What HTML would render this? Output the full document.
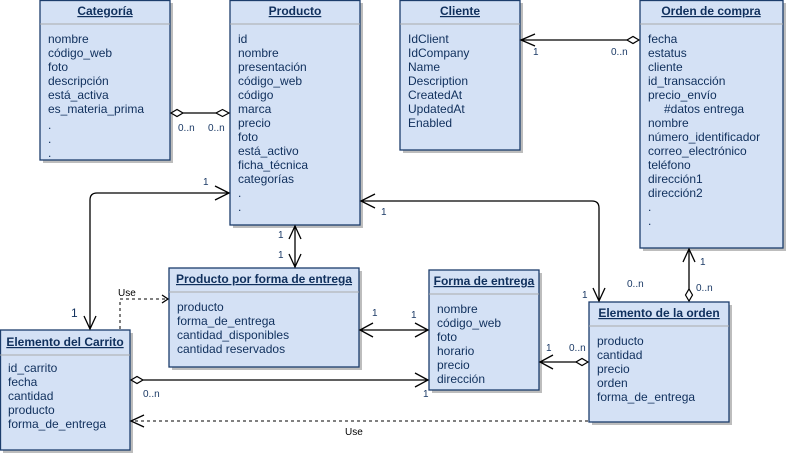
<!DOCTYPE html>
<html><head><meta charset="utf-8"><style>
html,body{margin:0;padding:0;background:#fff;}
svg{display:block;font-family:"Liberation Sans",sans-serif;}
.t{fill:#0f2f5c;font-size:12px;}
.h{fill:#0f2f5c;font-size:12px;font-weight:bold;text-decoration:underline;}
.l{fill:#1b3a66;font-size:10px;}
.b{fill:#d4e1f5;stroke:#1c3d6c;stroke-width:1.3;}
.s{fill:#bdbdbd;}
.c{stroke:#000;stroke-width:1.3;fill:none;}
.d{fill:#fff;stroke:#000;stroke-width:1.2;}
</style></head><body>
<svg width="786" height="454" viewBox="0 0 786 454">
<!-- shadows -->
<rect class="s" x="43" y="3" width="130" height="160"/>
<rect class="s" x="233" y="3" width="130" height="225"/>
<rect class="s" x="403" y="3" width="120" height="150"/>
<rect class="s" x="643" y="3" width="143" height="248"/>
<rect class="s" x="172" y="271" width="190" height="99"/>
<rect class="s" x="432" y="273" width="110" height="120"/>
<rect class="s" x="592" y="305" width="140" height="120"/>
<rect class="s" x="3" y="333" width="130" height="120"/>
<!-- boxes -->
<g>
<rect class="b" x="40" y="0.5" width="130" height="159.5"/><line x1="40" y1="24" x2="170" y2="24" stroke="#aaa"/>
<text class="h" x="105" y="15" text-anchor="middle">Categoría</text>
<text class="t" x="48" y="43">nombre</text><text class="t" x="48" y="57">código_web</text><text class="t" x="48" y="71">foto</text><text class="t" x="48" y="85">descripción</text><text class="t" x="48" y="99">está_activa</text><text class="t" x="48" y="113">es_materia_prima</text><text class="t" x="48" y="129">.</text><text class="t" x="48" y="143">.</text><text class="t" x="48" y="157">.</text>
</g>
<g>
<rect class="b" x="230" y="0.5" width="130" height="224.5"/><line x1="230" y1="24" x2="360" y2="24" stroke="#aaa"/>
<text class="h" x="295" y="15" text-anchor="middle">Producto</text>
<text class="t" x="238" y="43">id</text><text class="t" x="238" y="57">nombre</text><text class="t" x="238" y="71">presentación</text><text class="t" x="238" y="85">código_web</text><text class="t" x="238" y="99">código</text><text class="t" x="238" y="113">marca</text><text class="t" x="238" y="127">precio</text><text class="t" x="238" y="141">foto</text><text class="t" x="238" y="155">está_activo</text><text class="t" x="238" y="169">ficha_técnica</text><text class="t" x="238" y="183">categorías</text><text class="t" x="238" y="197">.</text><text class="t" x="238" y="211">.</text>
</g>
<g>
<rect class="b" x="400" y="0.5" width="120" height="149.5"/><line x1="400" y1="24" x2="520" y2="24" stroke="#aaa"/>
<text class="h" x="460" y="15" text-anchor="middle">Cliente</text>
<text class="t" x="408" y="43">IdClient</text><text class="t" x="408" y="57">IdCompany</text><text class="t" x="408" y="71">Name</text><text class="t" x="408" y="85">Description</text><text class="t" x="408" y="99">CreatedAt</text><text class="t" x="408" y="113">UpdatedAt</text><text class="t" x="408" y="127">Enabled</text>
</g>
<g>
<rect class="b" x="640" y="0.5" width="143" height="247.5"/><line x1="640" y1="24" x2="783" y2="24" stroke="#aaa"/>
<text class="h" x="711" y="15" text-anchor="middle">Orden de compra</text>
<text class="t" x="648" y="43">fecha</text><text class="t" x="648" y="57">estatus</text><text class="t" x="648" y="71">cliente</text><text class="t" x="648" y="85">id_transacción</text><text class="t" x="648" y="99">precio_envío</text><text class="t" x="664" y="113">#datos entrega</text><text class="t" x="648" y="127">nombre</text><text class="t" x="648" y="141">número_identificador</text><text class="t" x="648" y="155">correo_electrónico</text><text class="t" x="648" y="169">teléfono</text><text class="t" x="648" y="183">dirección1</text><text class="t" x="648" y="197">dirección2</text><text class="t" x="648" y="211">.</text><text class="t" x="648" y="225">.</text>
</g>
<g>
<rect class="b" x="169" y="268" width="190" height="99"/><line x1="169" y1="292" x2="359" y2="292" stroke="#aaa"/>
<text class="h" x="264" y="283" text-anchor="middle">Producto por forma de entrega</text>
<text class="t" x="177" y="311">producto</text><text class="t" x="177" y="325">forma_de_entrega</text><text class="t" x="177" y="339">cantidad_disponibles</text><text class="t" x="177" y="353">cantidad reservados</text>
</g>
<g>
<rect class="b" x="429" y="270" width="110" height="120"/><line x1="429" y1="294" x2="539" y2="294" stroke="#aaa"/>
<text class="h" x="484" y="285" text-anchor="middle">Forma de entrega</text>
<text class="t" x="437" y="313">nombre</text><text class="t" x="437" y="327">código_web</text><text class="t" x="437" y="341">foto</text><text class="t" x="437" y="355">horario</text><text class="t" x="437" y="369">precio</text><text class="t" x="437" y="383">dirección</text>
</g>
<g>
<rect class="b" x="589" y="302" width="140" height="120"/><line x1="589" y1="326" x2="729" y2="326" stroke="#aaa"/>
<text class="h" x="659" y="317" text-anchor="middle">Elemento de la orden</text>
<text class="t" x="597" y="345">producto</text><text class="t" x="597" y="359">cantidad</text><text class="t" x="597" y="373">precio</text><text class="t" x="597" y="387">orden</text><text class="t" x="597" y="401">forma_de_entrega</text>
</g>
<g>
<rect class="b" x="0.5" y="330" width="129.5" height="120"/><line x1="0" y1="355" x2="130" y2="355" stroke="#aaa"/>
<text class="h" x="65" y="346" text-anchor="middle">Elemento del Carrito</text>
<text class="t" x="8" y="372">id_carrito</text><text class="t" x="8" y="386">fecha</text><text class="t" x="8" y="400">cantidad</text><text class="t" x="8" y="414">producto</text><text class="t" x="8" y="428">forma_de_entrega</text>
</g>
<!-- connectors -->
<line class="c" x1="183" y1="113" x2="216" y2="113"/>
<path class="d" d="M171,113 L177,109.5 L183,113 L177,116.5Z"/>
<path class="d" d="M229,113 L222.5,109.5 L216,113 L222.5,116.5Z"/>
<text class="l" x="178" y="131">0..n</text><text class="l" x="208" y="131">0..n</text>

<line class="c" x1="521" y1="40" x2="627" y2="40"/>
<path class="c" d="M535,34 L521,40 L535,46"/>
<path class="d" d="M639,40 L633,36.5 L627,40 L633,43.5Z"/>
<text class="l" x="533" y="55">1</text><text class="l" x="611" y="55">0..n</text>

<path class="c" d="M90,329 L90,200 Q90,193 97,193 L229,193"/>
<path class="c" d="M215,186 L229,193 L215,200"/>
<path class="c" d="M84,316 L90,329 L96,316"/>
<text class="l" x="203" y="185">1</text><text class="t" x="71" y="317">1</text>

<path class="c" d="M361,201 L592,201 Q599,201 599,208 L599,301"/>
<path class="c" d="M375,194 L361,201 L375,208"/>
<path class="c" d="M593,288 L599,301 L605,288"/>
<text class="l" x="381" y="215">1</text><text class="l" x="582" y="298">1</text>

<line class="c" x1="295" y1="226" x2="295" y2="267"/>
<path class="c" d="M289,239 L295,226 L301,239"/>
<path class="c" d="M289,254 L295,267 L301,254"/>
<text class="l" x="278" y="238">1</text><text class="l" x="278" y="258">1</text>

<line class="c" x1="360" y1="330" x2="428" y2="330"/>
<path class="c" d="M373,323 L360,330 L373,337"/>
<path class="c" d="M415,323 L428,330 L415,337"/>
<text class="l" x="372" y="316">1</text><text class="l" x="411" y="318">1</text>

<line class="c" x1="143" y1="380" x2="428" y2="380"/>
<path class="d" d="M131,380 L137,376.5 L143,380 L137,383.5Z"/>
<path class="c" d="M415,373 L428,380 L415,387"/>
<text class="l" x="143" y="397">0..n</text><text class="l" x="423" y="397">1</text>

<line class="c" x1="540" y1="362" x2="576" y2="362"/>
<path class="c" d="M553,355 L540,362 L553,369"/>
<path class="d" d="M588,362 L582,358.5 L576,362 L582,365.5Z"/>
<text class="l" x="546" y="351">1</text><text class="l" x="569" y="351">0..n</text>

<line class="c" x1="689" y1="249" x2="689" y2="289"/>
<path class="c" d="M683,262 L689,249 L695,262"/>
<path class="d" d="M689,301 L685.5,295 L689,289 L692.5,295Z"/>
<text class="l" x="700" y="265">1</text><text class="l" x="696" y="291">0..n</text><text class="l" x="627" y="287">0..n</text>

<path d="M120,329 L120,299 L167,299" fill="none" stroke="#000" stroke-width="1" stroke-dasharray="3,3"/>
<path class="c" d="M162,295 L168,299 L162,303" stroke-width="1"/>
<text x="118" y="296" style="font-size:10px;fill:#000">Use</text>

<line x1="588" y1="421" x2="132" y2="421" stroke="#000" stroke-width="1" stroke-dasharray="3,3"/>
<path class="c" d="M144,415 L131,421 L144,427" stroke-width="1"/>
<text x="345" y="435" style="font-size:10px;fill:#000">Use</text>
</svg>
</body></html>
